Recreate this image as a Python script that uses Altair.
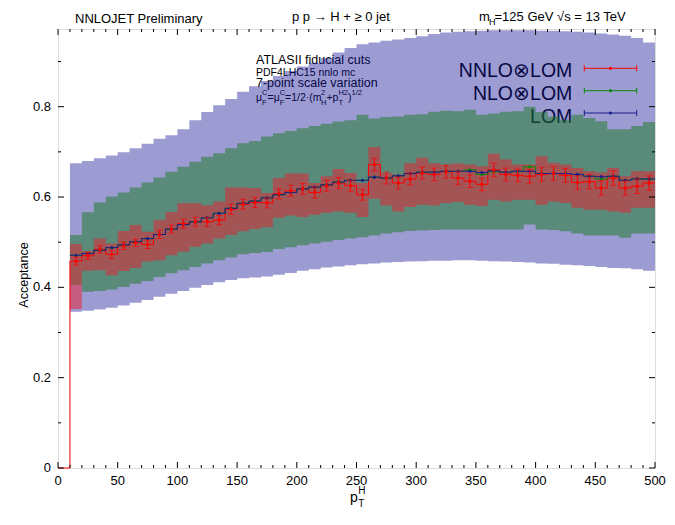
import altair as alt
import pandas as pd

FONT = "Liberation Sans"
W, H = 597, 439
X0, Y0 = 58, 29

# ---------------- data (bins of 10 GeV, lower edges 10..490) ----------------
bin_lo = list(range(10, 500, 10))

lom_hi = [0.675, 0.680, 0.686, 0.692, 0.699, 0.708, 0.718, 0.729, 0.737, 0.750,
          0.770, 0.788, 0.803, 0.817, 0.833, 0.845, 0.857, 0.868, 0.879, 0.889,
          0.897, 0.908, 0.920, 0.930, 0.938, 0.942, 0.946, 0.949, 0.952, 0.956,
          0.961, 0.964, 0.966, 0.967, 0.968, 0.969, 0.969, 0.969, 0.969, 0.968,
          0.968, 0.967, 0.966, 0.964, 0.962, 0.960, 0.957, 0.952, 0.942]
lom_lo = [0.346, 0.348, 0.351, 0.355, 0.360, 0.366, 0.372, 0.379, 0.386, 0.392,
          0.399, 0.405, 0.411, 0.416, 0.420, 0.422, 0.424, 0.428, 0.432, 0.437,
          0.440, 0.444, 0.446, 0.449, 0.451, 0.453, 0.455, 0.456, 0.457, 0.458,
          0.459, 0.459, 0.460, 0.460, 0.459, 0.458, 0.457, 0.456, 0.455, 0.453,
          0.452, 0.450, 0.449, 0.447, 0.445, 0.443, 0.442, 0.440, 0.437]
nlo_hi = [0.516, 0.566, 0.588, 0.601, 0.610, 0.621, 0.632, 0.643, 0.656, 0.667,
          0.678, 0.689, 0.697, 0.708, 0.719, 0.724, 0.734, 0.741, 0.746, 0.752,
          0.757, 0.762, 0.767, 0.770, 0.782, 0.774, 0.777, 0.778, 0.782, 0.783,
          0.789, 0.791, 0.790, 0.793, 0.782, 0.785, 0.789, 0.790, 0.800, 0.788,
          0.778, 0.771, 0.782, 0.775, 0.768, 0.750, 0.750, 0.757, 0.766]
nlo_lo = [0.405, 0.390, 0.392, 0.395, 0.401, 0.408, 0.414, 0.423, 0.431, 0.438,
          0.445, 0.453, 0.460, 0.466, 0.473, 0.476, 0.478, 0.485, 0.489, 0.493,
          0.497, 0.501, 0.505, 0.508, 0.511, 0.515, 0.519, 0.522, 0.525, 0.526,
          0.527, 0.528, 0.528, 0.528, 0.528, 0.528, 0.528, 0.528, 0.539, 0.528,
          0.527, 0.524, 0.519, 0.515, 0.515, 0.515, 0.510, 0.519, 0.519]
nnlo_hi = [0.496, 0.480, 0.508, 0.497, 0.525, 0.538, 0.523, 0.549, 0.567, 0.586,
           0.586, 0.582, 0.590, 0.621, 0.621, 0.620, 0.609, 0.642, 0.652, 0.652,
           0.631, 0.646, 0.662, 0.653, 0.631, 0.711, 0.653, 0.650, 0.675, 0.687,
           0.675, 0.672, 0.674, 0.672, 0.668, 0.696, 0.683, 0.672, 0.672, 0.690,
           0.676, 0.672, 0.664, 0.657, 0.654, 0.664, 0.646, 0.657, 0.657]
nnlo_lo = [0.352, 0.437, 0.438, 0.427, 0.436, 0.443, 0.457, 0.460, 0.471, 0.479,
           0.490, 0.497, 0.508, 0.516, 0.524, 0.529, 0.533, 0.554, 0.559, 0.556,
           0.561, 0.565, 0.568, 0.565, 0.556, 0.596, 0.581, 0.568, 0.578, 0.583,
           0.581, 0.587, 0.589, 0.583, 0.580, 0.594, 0.590, 0.594, 0.594, 0.583,
           0.590, 0.587, 0.576, 0.572, 0.572, 0.568, 0.565, 0.576, 0.576]
lom_c = [0.471, 0.475, 0.482, 0.488, 0.494, 0.501, 0.508, 0.517, 0.529, 0.539,
         0.545, 0.554, 0.564, 0.575, 0.586, 0.591, 0.598, 0.605, 0.610, 0.618,
         0.622, 0.627, 0.633, 0.637, 0.637, 0.644, 0.642, 0.647, 0.652, 0.655,
         0.655, 0.657, 0.657, 0.657, 0.654, 0.658, 0.655, 0.657, 0.657, 0.652,
         0.652, 0.652, 0.650, 0.646, 0.645, 0.646, 0.637, 0.640, 0.640]
nlo_c = [0.471, 0.475, 0.482, 0.488, 0.494, 0.501, 0.508, 0.517, 0.529, 0.539,
         0.545, 0.554, 0.564, 0.575, 0.586, 0.591, 0.598, 0.605, 0.610, 0.618,
         0.622, 0.627, 0.633, 0.637, 0.637, 0.644, 0.642, 0.647, 0.652, 0.655,
         0.655, 0.657, 0.657, 0.660, 0.650, 0.656, 0.655, 0.657, 0.667, 0.652,
         0.652, 0.652, 0.650, 0.646, 0.640, 0.646, 0.637, 0.640, 0.640]
nnlo_c = [0.458, 0.470, 0.484, 0.473, 0.492, 0.499, 0.495, 0.517, 0.529, 0.541,
          0.545, 0.545, 0.549, 0.573, 0.584, 0.588, 0.587, 0.607, 0.614, 0.618,
          0.610, 0.625, 0.631, 0.625, 0.605, 0.672, 0.642, 0.631, 0.640, 0.653,
          0.650, 0.656, 0.642, 0.635, 0.628, 0.660, 0.650, 0.648, 0.646, 0.650,
          0.652, 0.648, 0.632, 0.634, 0.620, 0.642, 0.620, 0.624, 0.631]
nnlo_err = [0.009, 0.008, 0.008, 0.009, 0.008, 0.008, 0.009, 0.009, 0.009, 0.010,
            0.010, 0.010, 0.010, 0.011, 0.011, 0.011, 0.011, 0.011, 0.012, 0.012,
            0.012, 0.012, 0.012, 0.012, 0.012, 0.014, 0.013, 0.013, 0.013, 0.013,
            0.014, 0.014, 0.014, 0.014, 0.014, 0.015, 0.014, 0.014, 0.015, 0.015,
            0.015, 0.015, 0.015, 0.016, 0.016, 0.016, 0.016, 0.016, 0.016]

x_tick_major = list(range(0, 501, 50))
x_tick_minor = [v for v in range(0, 501, 10) if v % 50]
y_tick_major = [0.0, 0.2, 0.4, 0.6, 0.8]
y_tick_minor = [0.1, 0.3, 0.5, 0.7, 0.9]
x_tick_labels = [str(v) for v in x_tick_major]
y_tick_labels = ["0", "0.2", "0.4", "0.6", "0.8"]

# ---------------- helpers ----------------
xs = alt.Scale(domain=[0, 500], nice=False, zero=False)
ys = alt.Scale(domain=[0, 0.972], nice=False, zero=False)

edges = bin_lo + [500]
centers = [b + 5 for b in bin_lo]


def X(f):
    return alt.X(f, scale=xs, axis=None)


def Y(f):
    return alt.Y(f, scale=ys, axis=None)


def ext(v):
    return list(v) + [v[-1]]


def band(lo, hi, color, op):
    d = pd.DataFrame({"x": edges, "lo": ext(lo), "hi": ext(hi)})
    return alt.Chart(d).mark_area(interpolate="step-after", color=color, opacity=op).encode(
        x=X("x:Q"), y=Y("lo:Q"), y2="hi:Q")


def step(vals, color, from_zero=False, sw=1.0):
    xv = edges
    yv = ext(vals)
    if from_zero:
        xv = [0] + xv
        yv = [0.0] + yv
    d = pd.DataFrame({"x": xv, "y": yv})
    return alt.Chart(d).mark_line(interpolate="step-after", color=color, strokeWidth=sw).encode(
        x=X("x:Q"), y=Y("y:Q"))


def txt(s, x, y, size, align="left", color="#000", angle=0, baseline="alphabetic"):
    return alt.Chart(pd.DataFrame({"t": [s]})).mark_text(
        text=s, font=FONT, fontSize=size, align=align, baseline=baseline,
        color=color, angle=angle,
    ).encode(x=alt.value(x - X0), y=alt.value(y - Y0))


def xticks(vals, L):
    d = pd.DataFrame({"v": vals})
    b = alt.Chart(d).mark_rule(color="#000", strokeWidth=1).encode(
        x=X("v:Q"), x2="v:Q", y=alt.value(H), y2=alt.value(H - L))
    t = alt.Chart(d).mark_rule(color="#000", strokeWidth=1).encode(
        x=X("v:Q"), x2="v:Q", y=alt.value(0), y2=alt.value(L))
    return [b, t]


def yticks(vals, L):
    d = pd.DataFrame({"v": vals})
    l = alt.Chart(d).mark_rule(color="#000", strokeWidth=1).encode(
        y=Y("v:Q"), y2="v:Q", x=alt.value(0), x2=alt.value(L))
    r = alt.Chart(d).mark_rule(color="#000", strokeWidth=1).encode(
        y=Y("v:Q"), y2="v:Q", x=alt.value(W), x2=alt.value(W - L))
    return [l, r]


LAV = "#141496"
GRN = "#187821"
RED = "#eb1e2d"
C_NNLO = "#ff0000"
C_NLO = "#0a8a0a"
C_LOM = "#1c1c8c"

layers = []

# annotation text (under the translucent bands)
layers += [
    txt("ATLASII fiducial cuts", 256, 63.5, 12.5),
    txt("PDF4LHC15 nnlo mc", 256, 75.7, 10.5),
    txt("7-point scale variation", 256, 87, 12.5),
    txt("\u03bc", 256, 101, 10.5),
    txt("C", 262.1, 94.5, 7.5), txt("F", 262.1, 104.5, 7.5),
    txt("=\u03bc", 267.5, 101, 10.5),
    txt("C", 279.7, 94.5, 7.5), txt("F", 279.7, 104.5, 7.5),
    txt("=1/2\u00b7(m", 285.1, 101, 10.5),
    txt("2", 321, 94.5, 7.5), txt("H", 321, 104.5, 7.5),
    txt("+p", 326.4, 101, 10.5),
    txt("H2", 338.4, 94.5, 7.5), txt("T", 338.4, 104.5, 7.5),
    txt(")", 348, 101, 10.5),
    txt("1/2", 351.5, 94.5, 7.5),
    txt("NNLO\u2297LOM", 572.3, 77.3, 19.5, align="right"),
    txt("NLO\u2297LOM", 572.3, 100, 19.5, align="right"),
    txt("LOM", 572.3, 123.3, 19.5, align="right"),
]

# bands
layers += [
    band(lom_lo, lom_hi, LAV, 0.42),
    band(nlo_lo, nlo_hi, GRN, 0.5),
    band(nnlo_lo, nnlo_hi, RED, 0.5),
]

# central step lines
layers += [
    step(nnlo_c, C_NNLO, from_zero=True),
    step(nlo_c, C_NLO),
    step(lom_c, C_LOM),
]

# points and NNLO error bars
pts = pd.DataFrame({
    "x": centers, "nnlo": nnlo_c, "nlo": nlo_c, "lom": lom_c,
    "lo": [c - e for c, e in zip(nnlo_c, nnlo_err)],
    "hi": [c + e for c, e in zip(nnlo_c, nnlo_err)],
})
layers += [
    alt.Chart(pts).mark_circle(size=10, color=C_NLO, opacity=1).encode(x=X("x:Q"), y=Y("nlo:Q")),
    alt.Chart(pts).mark_circle(size=10, color=C_LOM, opacity=1).encode(x=X("x:Q"), y=Y("lom:Q")),
    alt.Chart(pts).mark_rule(color=C_NNLO, strokeWidth=1).encode(x=X("x:Q"), y=Y("lo:Q"), y2="hi:Q"),
    alt.Chart(pts).mark_tick(color=C_NNLO, orient="horizontal", size=6, thickness=1).encode(
        x=X("x:Q"), y=Y("lo:Q")),
    alt.Chart(pts).mark_tick(color=C_NNLO, orient="horizontal", size=6, thickness=1).encode(
        x=X("x:Q"), y=Y("hi:Q")),
    alt.Chart(pts).mark_circle(size=12, color=C_NNLO, opacity=1).encode(x=X("x:Q"), y=Y("nnlo:Q")),
]

# inward ticks on all four sides
layers += xticks(x_tick_major, 6) + xticks(x_tick_minor, 3)
layers += yticks(y_tick_major, 6) + yticks(y_tick_minor, 3)

# tick labels
xl = pd.DataFrame({"v": x_tick_major, "t": x_tick_labels})
yl = pd.DataFrame({"v": y_tick_major, "t": y_tick_labels})
layers += [
    alt.Chart(xl).mark_text(font=FONT, fontSize=13, align="center", baseline="middle", color="#000").encode(
        x=X("v:Q"), y=alt.value(H + 13), text="t:N"),
    alt.Chart(yl).mark_text(font=FONT, fontSize=13, align="right", baseline="middle", color="#000").encode(
        y=Y("v:Q"), x=alt.value(-7), text="t:N"),
]

# legend samples
for yy, col in [(68.3, C_NNLO), (90.7, C_NLO), (113.0, C_LOM)]:
    d = pd.DataFrame({"k": [0]})
    layers.append(alt.Chart(d).mark_rule(color=col, strokeWidth=1).encode(
        x=alt.value(584.3 - X0), x2=alt.value(636.7 - X0), y=alt.value(yy - Y0), y2=alt.value(yy - Y0)))
    for xe in (584.3, 636.7):
        layers.append(alt.Chart(d).mark_rule(color=col, strokeWidth=1).encode(
            x=alt.value(xe - X0), x2=alt.value(xe - X0), y=alt.value(yy - Y0 - 3), y2=alt.value(yy - Y0 + 3)))
    layers.append(alt.Chart(d).mark_circle(color=col, size=10, opacity=1).encode(
        x=alt.value(610.5 - X0), y=alt.value(yy - Y0)))

# titles and axis titles
layers += [
    txt("NNLOJET Preliminary", 75, 23, 13),
    txt("p p \u2192 H + \u2265 0 jet", 292, 21, 13),
    txt("m", 479, 21, 13),
    txt("H", 489, 24.5, 9),
    txt("=125 GeV \u221as  = 13 TeV", 494.5, 21, 13),
    txt("Acceptance", 24, 275, 12.5, align="center", angle=270, baseline="middle"),
    txt("p", 350, 502, 14),
    txt("T", 358.2, 507, 10),
    txt("H", 358.2, 494, 10),
]

chart = alt.layer(*layers).properties(
    width=W, height=H,
    autosize=alt.AutoSizeParams(type="none"),
    padding={"left": X0, "top": Y0, "right": 675 - X0 - W, "bottom": 525 - Y0 - H},
).configure_view(stroke="#111", strokeWidth=1.5).configure(background="white")

chart.save("out.html", embed_options={"renderer": "svg", "actions": False})
